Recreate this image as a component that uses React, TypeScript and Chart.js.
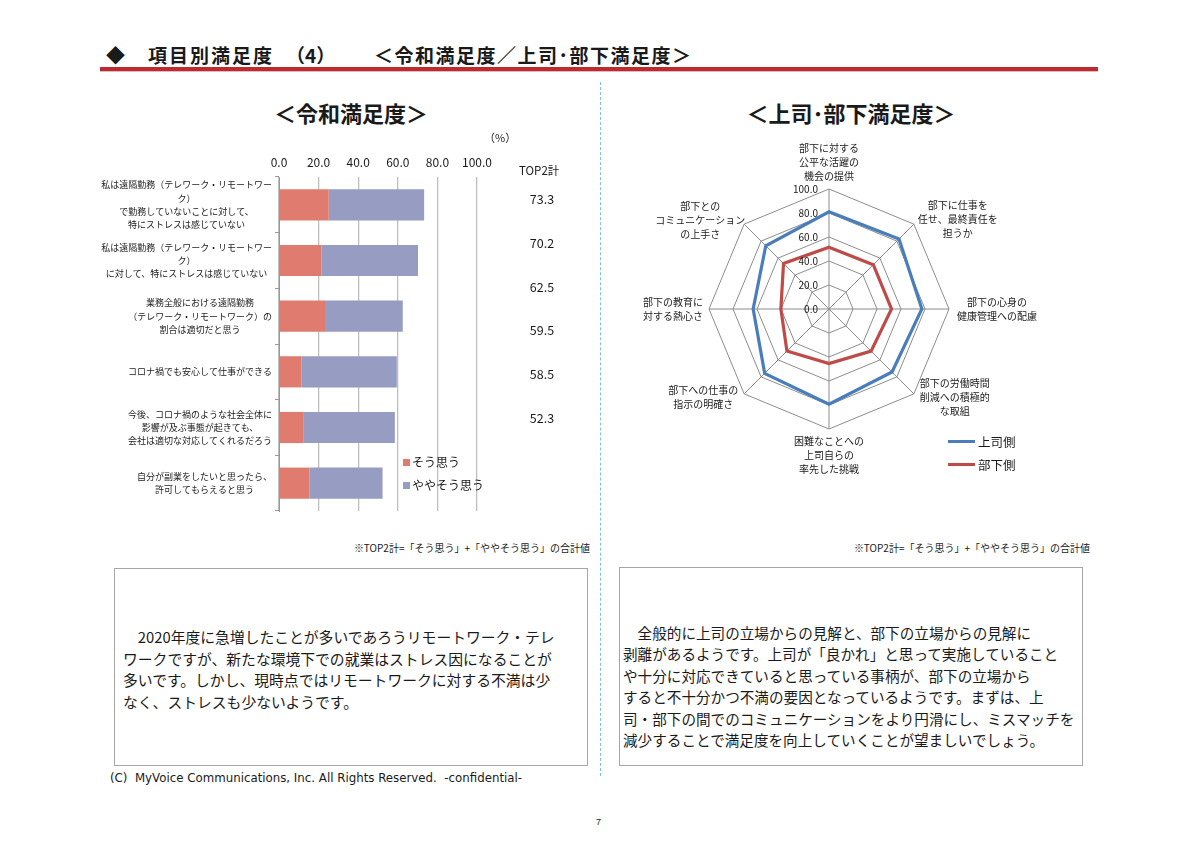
import React, { useEffect, useRef } from "react";
import { Chart, registerables } from "chart.js";

Chart.register(...registerables);

const JP = '"Noto Sans CJK JP", "Noto Sans", sans-serif';

// ---------- Bar chart data (令和満足度) ----------
const barCategories: string[][] = [
  ["私は遠隔勤務（テレワーク・リモートワー", "ク）", "で勤務していないことに対して、", "特にストレスは感じていない"],
  ["私は遠隔勤務（テレワーク・リモートワー", "ク）", "に対して、特にストレスは感じていない"],
  ["業務全般における遠隔勤務", "（テレワーク・リモートワーク）の", "割合は適切だと思う"],
  ["コロナ禍でも安心して仕事ができる"],
  ["今後、コロナ禍のような社会全体に", "影響が及ぶ事態が起きても、", "会社は適切な対応してくれるだろう"],
  ["自分が副業をしたいと思ったら、", "許可してもらえると思う"],
];
const soOmou = [25.1, 21.4, 23.7, 11.3, 12.5, 15.3];
const yayaSoOmou = [48.2, 48.8, 38.8, 48.2, 46.0, 37.0];
const top2Labels = ["73.3", "70.2", "62.5", "59.5", "58.5", "52.3"];
const barSeriesNames = ["そう思う", "ややそう思う"];

// ---------- Radar chart data (上司・部下満足度) ----------
const radarAxes: string[][] = [
  ["部下に対する", "公平な活躍の", "機会の提供"],
  ["部下に仕事を", "任せ、最終責任を", "担うか"],
  ["部下の心身の", "健康管理への配慮"],
  ["部下の労働時間", "削減への積極的", "な取組"],
  ["困難なことへの", "上司自らの", "率先した挑戦"],
  ["部下への仕事の", "指示の明確さ"],
  ["部下の教育に", "対する熱心さ"],
  ["部下との", "コミュニケーション", "の上手さ"],
];
const jousiValues = [81.0, 82.5, 77.4, 74.3, 79.4, 75.8, 63.2, 74.5];
const bukaValues = [51.5, 52.2, 52.1, 49.6, 45.4, 49.6, 40.1, 53.6];
const radarSeriesNames = ["上司側", "部下側"];
const radarTicks = [0, 20, 40, 60, 80, 100];

// label anchor offsets from each outer vertex (layout only)
const radarLabelOffsets: [number, number][] = [
  [0, -27], [44, -5], [48, 0], [41, 3], [0, 26], [-41, 3], [-36, 0], [-44, -4],
];

const RED = "#E07B70";
const BLUE = "#969CC2";
const JOUSI = "#4A7EBB";
const BUKA = "#BE4B48";

const barLabelPlugin = {
  id: "barLabels",
  afterDraw(chart: any) {
    const ctx = chart.ctx;
    const y = chart.scales.y;
    const area = chart.chartArea;
    ctx.save();
    ctx.font = `9px ${JP}`;
    ctx.fillStyle = "#1a1a1a";
    ctx.textAlign = "center";
    ctx.textBaseline = "middle";
    const lh = 13.4;
    barCategories.forEach((lines, i) => {
      const cy = y.getPixelForValue(i);
      const maxW = Math.max(...lines.map((l) => ctx.measureText(l).width));
      const cx = area.left - 7 - maxW / 2;
      lines.forEach((l, k) => {
        ctx.fillText(l, cx, cy + (k - (lines.length - 1) / 2) * lh);
      });
    });
    ctx.restore();
  },
};

const radarLabelPlugin = {
  id: "radarLabels",
  afterDraw(chart: any) {
    const ctx = chart.ctx;
    const r = chart.scales.r;
    ctx.save();
    ctx.font = `10px ${JP}`;
    ctx.fillStyle = "#1a1a1a";
    ctx.textAlign = "right";
    ctx.textBaseline = "middle";
    radarTicks.forEach((v) => {
      const d = r.getDistanceFromCenterForValue(v);
      ctx.fillText(v.toFixed(1), r.xCenter - 11, r.yCenter - d);
    });
    ctx.textAlign = "center";
    const lh = 14;
    radarAxes.forEach((lines, i) => {
      const p = r.getPointPosition(i, r.drawingArea);
      const [dx, dy] = radarLabelOffsets[i];
      const cx = p.x + dx;
      const cy = p.y + dy;
      lines.forEach((l, k) => {
        ctx.fillText(l, cx, cy + (k - (lines.length - 1) / 2) * lh);
      });
    });
    ctx.restore();
  },
};

function BarChart() {
  const ref = useRef<HTMLCanvasElement>(null);
  useEffect(() => {
    const chart = new Chart(ref.current as HTMLCanvasElement, {
      type: "bar",
      data: {
        labels: barCategories.map((c) => c.join("")),
        datasets: [
          { label: barSeriesNames[0], data: soOmou, backgroundColor: RED, barPercentage: 0.56, categoryPercentage: 1 },
          { label: barSeriesNames[1], data: yayaSoOmou, backgroundColor: BLUE, barPercentage: 0.56, categoryPercentage: 1 },
        ],
      },
      options: {
        indexAxis: "y",
        responsive: false,
        animation: false,
        layout: { padding: { top: 0, right: 43, bottom: 19, left: 0 } },
        plugins: { legend: { display: false }, tooltip: { enabled: false } },
        scales: {
          x: {
            position: "top",
            stacked: true,
            min: 0,
            max: 100,
            ticks: {
              stepSize: 20,
              callback: (v: any) => Number(v).toFixed(1),
              font: { family: JP, size: 12 },
              color: "#1a1a1a",
              padding: 7,
              maxRotation: 0,
            },
            grid: { color: "#BFBFBF", lineWidth: 1.3, drawTicks: false },
            border: { display: false },
            afterFit: (s: any) => {
              s.height = 47;
            },
          },
          y: {
            stacked: true,
            ticks: { display: false },
            grid: { drawOnChartArea: false, drawTicks: true, tickLength: 4, color: "#999999", offset: true },
            border: { color: "#999999", width: 1 },
            afterFit: (s: any) => {
              s.width = 219;
            },
          },
        },
      } as any,
      plugins: [barLabelPlugin],
    });
    return () => chart.destroy();
  }, []);
  return <canvas ref={ref} width={460} height={400} style={{ position: "absolute", left: 60, top: 130, width: 460, height: 400 }} />;
}

function RadarChart() {
  const ref = useRef<HTMLCanvasElement>(null);
  useEffect(() => {
    const chart = new Chart(ref.current as HTMLCanvasElement, {
      type: "radar",
      data: {
        labels: radarAxes.map((a) => a.join("")),
        datasets: [
          { label: radarSeriesNames[0], data: jousiValues, borderColor: JOUSI, backgroundColor: "transparent", fill: false, borderWidth: 3.2, pointRadius: 0 },
          { label: radarSeriesNames[1], data: bukaValues, borderColor: BUKA, backgroundColor: "transparent", fill: false, borderWidth: 3.2, pointRadius: 0 },
        ],
      },
      options: {
        responsive: false,
        animation: false,
        layout: { padding: { left: 110, right: 110, top: 80, bottom: 80 } },
        plugins: { legend: { display: false }, tooltip: { enabled: false } },
        elements: { line: { tension: 0 } },
        scales: {
          r: {
            min: 0,
            max: 100,
            ticks: { stepSize: 20, display: false, showLabelBackdrop: false },
            grid: { color: "#8C8C8C", lineWidth: 1 },
            angleLines: { color: "#8C8C8C", lineWidth: 1 },
            pointLabels: { display: false },
          },
        },
      } as any,
      plugins: [radarLabelPlugin],
    });
    return () => chart.destroy();
  }, []);
  return <canvas ref={ref} width={460} height={400} style={{ position: "absolute", left: 599, top: 109, width: 460, height: 400 }} />;
}

const abs = (extra: React.CSSProperties): React.CSSProperties => ({ position: "absolute", whiteSpace: "nowrap", ...extra });

export default function App() {
  const leftText = [
    "　2020年度に急増したことが多いであろうリモートワーク・テレ",
    "ワークですが、新たな環境下での就業はストレス因になることが",
    "多いです。しかし、現時点ではリモートワークに対する不満は少",
    "なく、ストレスも少ないようです。",
  ];
  const rightText = [
    "　全般的に上司の立場からの見解と、部下の立場からの見解に",
    "剥離があるようです。上司が「良かれ」と思って実施していること",
    "や十分に対応できていると思っている事柄が、部下の立場から",
    "すると不十分かつ不満の要因となっているようです。まずは、上",
    "司・部下の間でのコミュニケーションをより円滑にし、ミスマッチを",
    "減少することで満足度を向上していくことが望ましいでしょう。",
  ];
  return (
    <div style={{ position: "absolute", left: 0, top: 0, width: 1200, height: 849, background: "#fff", overflow: "hidden", fontFamily: JP, color: "#1a1a1a" }}>
      {/* header */}
      <div style={abs({ left: 106, top: 41, fontSize: 19, fontWeight: 700, lineHeight: "28px" })}>◆</div>
      <div style={abs({ left: 148, top: 41, fontSize: 19, fontWeight: 700, lineHeight: "28px", letterSpacing: 2 })}>項目別満足度</div>
      <div style={abs({ left: 286, top: 41, fontSize: 19, fontWeight: 700, lineHeight: "28px" })}>（4）</div>
      <div style={abs({ left: 374, top: 41, fontSize: 19, fontWeight: 700, lineHeight: "28px", letterSpacing: 1.5 })}>＜令和満足度／上司･部下満足度＞</div>
      <div style={abs({ left: 100, top: 67, width: 998, height: 4, background: "#BE2A2F" })} />
      <div style={abs({ left: 100, top: 71, width: 998, height: 1, background: "#D9C0C0" })} />

      {/* divider */}
      <div style={abs({ left: 600, top: 82, width: 0, height: 694, borderLeft: "1px dashed #7FC4D6" })} />

      {/* subtitles */}
      <div style={abs({ left: 201, top: 96, width: 300, textAlign: "center", fontSize: 22, fontWeight: 700, lineHeight: "32px" })}>＜令和満足度＞</div>
      <div style={abs({ left: 701, top: 96, width: 300, textAlign: "center", fontSize: 22, fontWeight: 700, lineHeight: "32px" })}>＜上司･部下満足度＞</div>

      {/* bar chart */}
      <BarChart />
      <div style={abs({ left: 484, top: 129, fontSize: 11, lineHeight: "16px" })}>（%）</div>
      <div style={abs({ left: 519, top: 161, fontSize: 11.5, lineHeight: "18px" })}>TOP2計</div>
      {top2Labels.map((t, i) => (
        <div key={t} style={abs({ left: 512, width: 60, textAlign: "center", top: 190 + i * 43.8, fontSize: 12.5, lineHeight: "18px" })}>{t}</div>
      ))}
      <div style={abs({ left: 403, top: 459, width: 7, height: 7, background: RED })} />
      <div style={abs({ left: 412, top: 454, fontSize: 12, lineHeight: "16px" })}>{barSeriesNames[0]}</div>
      <div style={abs({ left: 403, top: 482, width: 7, height: 7, background: BLUE })} />
      <div style={abs({ left: 412, top: 477, fontSize: 12, lineHeight: "16px" })}>{barSeriesNames[1]}</div>

      {/* radar chart */}
      <RadarChart />
      <div style={abs({ left: 948, top: 440, width: 27, height: 3, background: JOUSI })} />
      <div style={abs({ left: 978, top: 433, fontSize: 12.5, lineHeight: "17px" })}>{radarSeriesNames[0]}</div>
      <div style={abs({ left: 948, top: 463, width: 27, height: 3, background: BUKA })} />
      <div style={abs({ left: 978, top: 456, fontSize: 12.5, lineHeight: "17px" })}>{radarSeriesNames[1]}</div>

      {/* footnotes */}
      <div style={abs({ left: 290, width: 300, top: 541, textAlign: "right", fontSize: 10, lineHeight: "14px" })}>※TOP2計=「そう思う」+「ややそう思う」の合計値</div>
      <div style={abs({ left: 790, width: 300, top: 541, textAlign: "right", fontSize: 10, lineHeight: "14px" })}>※TOP2計=「そう思う」+「ややそう思う」の合計値</div>

      {/* text boxes */}
      <div style={abs({ left: 114, top: 568, width: 474, height: 198, border: "1px solid #A6A6A6", boxSizing: "border-box" })} />
      <div style={abs({ left: 123, top: 626, fontSize: 14.8, lineHeight: "21.7px" })}>
        {leftText.map((l) => (
          <div key={l}>{l}</div>
        ))}
      </div>
      <div style={abs({ left: 619, top: 567, width: 464, height: 199, border: "1px solid #A6A6A6", boxSizing: "border-box" })} />
      <div style={abs({ left: 623, top: 622, fontSize: 14.6, lineHeight: "21.4px" })}>
        {rightText.map((l) => (
          <div key={l}>{l}</div>
        ))}
      </div>

      {/* footer */}
      <div style={abs({ left: 110, top: 770, fontFamily: '"DejaVu Sans", sans-serif', fontSize: 11.8, lineHeight: "16px" })}>
        (C)&nbsp; MyVoice Communications, Inc. All Rights Reserved.&nbsp; -confidential-
      </div>
      <div style={abs({ left: 596, top: 815, fontFamily: '"Liberation Sans", sans-serif', fontSize: 9, lineHeight: "14px" })}>7</div>
    </div>
  );
}
